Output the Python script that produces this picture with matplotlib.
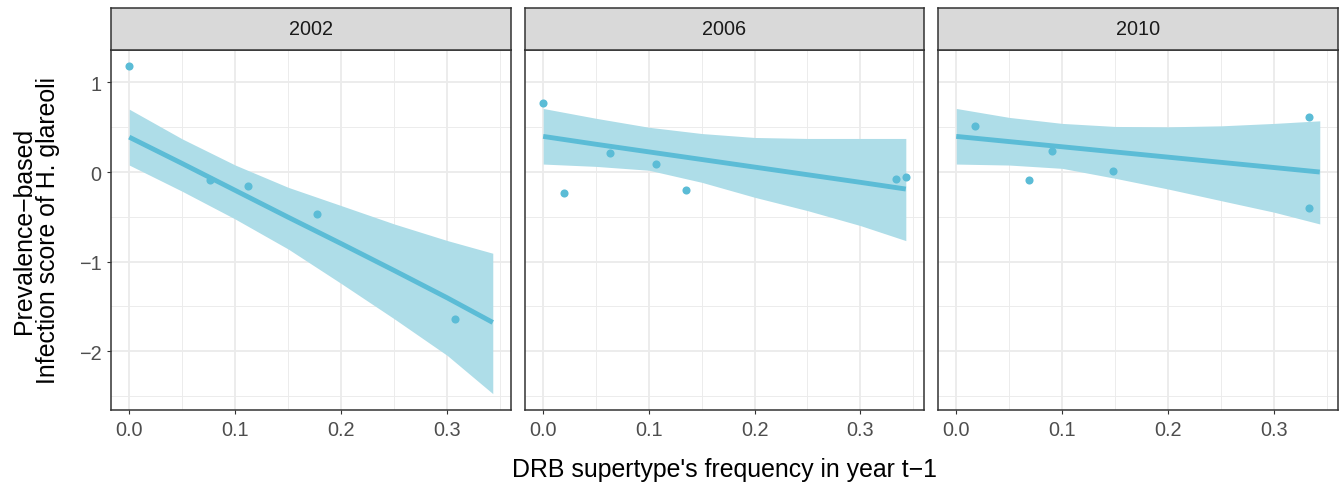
import matplotlib
matplotlib.use('Agg')
import matplotlib.pyplot as plt
import numpy as np

plt.rcParams['font.family'] = ['Liberation Sans', 'DejaVu Sans']

years = ['2002', '2006', '2010']

# observed points per facet
x_2002 = [0.0, 0.0766, 0.1120, 0.1773, 0.3072]
y_2002 = [1.18, -0.085, -0.152, -0.472, -1.639]
x_2006 = [0.0, 0.0195, 0.0631, 0.1064, 0.1353, 0.3333, 0.3431]
y_2006 = [0.769, -0.234, 0.212, 0.089, -0.204, -0.078, -0.059]
x_2010 = [0.0179, 0.0687, 0.0904, 0.1480, 0.3330, 0.3330]
y_2010 = [0.509, -0.089, 0.234, 0.008, 0.617, -0.405]

# fitted line + confidence band
fit_x = [0.0, 0.05, 0.1, 0.15, 0.2, 0.25, 0.3, 0.343]
fit_2002 = [0.39, 0.095, -0.205, -0.505, -0.80, -1.10, -1.405, -1.68]
upr_2002 = [0.702, 0.37, 0.078, -0.171, -0.375, -0.58, -0.765, -0.907]
lwr_2002 = [0.078, -0.215, -0.525, -0.86, -1.245, -1.639, -2.048, -2.475]
fit_2006 = [0.398, 0.31, 0.225, 0.14, 0.055, -0.03, -0.115, -0.19]
upr_2006 = [0.71, 0.60, 0.50, 0.43, 0.386, 0.375, 0.375, 0.375]
lwr_2006 = [0.089, 0.063, 0.02, -0.115, -0.282, -0.431, -0.598, -0.766]
fit_2010 = [0.398, 0.34, 0.282, 0.224, 0.166, 0.108, 0.05, 0.0]
upr_2010 = [0.71, 0.61, 0.543, 0.509, 0.505, 0.516, 0.543, 0.572]
lwr_2010 = [0.089, 0.078, 0.041, -0.07, -0.19, -0.32, -0.449, -0.58]

points = [(x_2002, y_2002), (x_2006, y_2006), (x_2010, y_2010)]
fits = [(fit_2002, upr_2002, lwr_2002), (fit_2006, upr_2006, lwr_2006), (fit_2010, upr_2010, lwr_2010)]

W, H = 1341, 485
fig = plt.figure(figsize=(W / 100, H / 100), dpi=100)

panels = [(111, 511), (525, 924), (938, 1338)]
top, bottom, strip_top = 51, 411, 9
pt_col = '#5BBCD6'
band_col = '#AEDDE8'

for i, (l, r) in enumerate(panels):
    ax = fig.add_axes([l / W, 1 - bottom / H, (r - l) / W, (bottom - top) / H])
    ax.fill_between(fit_x, fits[i][2], fits[i][1], color=band_col, lw=0, zorder=2)
    ax.plot(fit_x, fits[i][0], color=pt_col, lw=3.5, zorder=3, solid_capstyle='butt')
    ax.scatter(points[i][0], points[i][1], s=34, color=pt_col, lw=0, zorder=4)

    ax.set_xlim(-0.0172, 0.3602)
    ax.set_ylim(-2.658, 1.363)
    ax.set_xticks([0.0, 0.1, 0.2, 0.3])
    ax.set_xticklabels(['0.0', '0.1', '0.2', '0.3'])
    ax.set_xticks([0.05, 0.15, 0.25, 0.35], minor=True)
    ax.set_yticks([-2, -1, 0, 1])
    ax.set_yticks([-2.5, -1.5, -0.5, 0.5], minor=True)
    ax.grid(which='major', color='#EBEBEB', lw=1.3, zorder=0)
    ax.grid(which='minor', color='#EBEBEB', lw=0.65, zorder=0)
    ax.set_axisbelow(True)
    ax.tick_params(which='major', length=3, width=0.8, color='#333333',
                   labelsize=14.3, labelcolor='#4D4D4D', pad=4)
    ax.tick_params(which='minor', length=0)
    if i > 0:
        ax.tick_params(axis='y', which='major', length=0, labelleft=False)
    for s in ax.spines.values():
        s.set_color('#333333')
        s.set_linewidth(1.1)

    # facet strip
    sax = fig.add_axes([l / W, 1 - top / H, (r - l) / W, (top - strip_top) / H])
    sax.set_facecolor('#D9D9D9')
    sax.set_xticks([])
    sax.set_yticks([])
    for s in sax.spines.values():
        s.set_color('#333333')
        s.set_linewidth(1.1)
    sax.text(0.5, 0.5, years[i], ha='center', va='center', fontsize=14.3,
             color='#1A1A1A', transform=sax.transAxes)

fig.text(724.5 / W, 1 - 470 / H, "DRB supertype's frequency in year t\u22121",
         ha='center', va='center', fontsize=17.9, color='black')
fig.text(36 / W, 1 - 231 / H, 'Prevalence\u2212based\nInfection score of H. glareoli',
         ha='center', va='center', rotation=90, fontsize=17.9, color='black',
         linespacing=1.0)

fig.savefig('out.png', dpi=100)
